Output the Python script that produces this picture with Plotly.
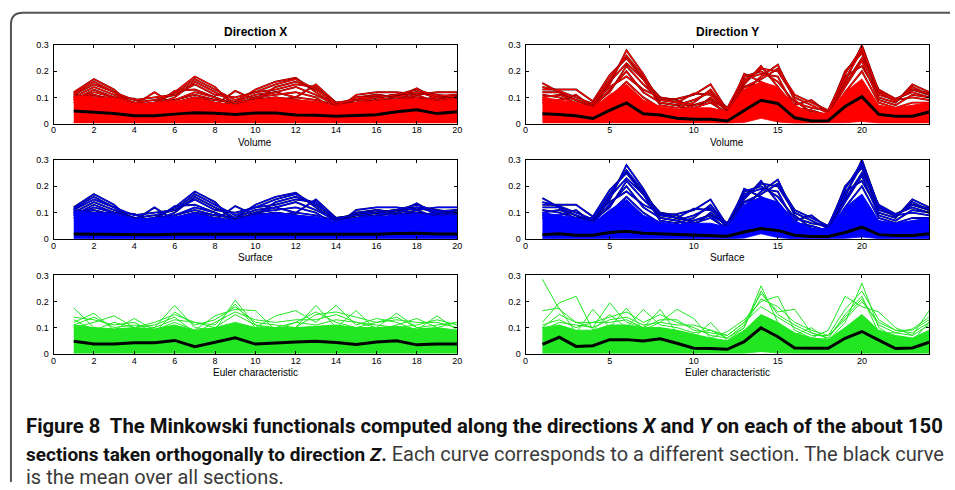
import plotly.graph_objects as go

W, H = 955, 490

# ---------------------------------------------------------------- data
x_dir_x = [1, 2, 3, 4, 5, 6, 7, 8, 9, 10, 11, 12, 13, 14, 15, 16, 17, 18, 19, 20]
x_dir_y = [1, 2, 3, 4, 5, 6, 7, 8, 9, 10, 11, 12, 13, 14, 15, 16, 17, 18, 19, 20, 21, 22, 23, 24]

# Direction X, volume / surface: outlying section curves
dirx_sections = [
    [0.120, 0.170, 0.130, 0.060, 0.070, 0.080, 0.100, 0.080, 0.070, 0.090, 0.100, 0.090, 0.080, 0.060, 0.070, 0.080, 0.090, 0.100, 0.080, 0.090],
    [0.100, 0.110, 0.090, 0.070, 0.080, 0.120, 0.180, 0.140, 0.060, 0.100, 0.090, 0.100, 0.090, 0.070, 0.080, 0.090, 0.080, 0.090, 0.090, 0.100],
    [0.110, 0.100, 0.100, 0.080, 0.070, 0.090, 0.110, 0.090, 0.080, 0.130, 0.160, 0.175, 0.120, 0.070, 0.090, 0.100, 0.110, 0.100, 0.090, 0.110],
    [0.090, 0.120, 0.100, 0.095, 0.060, 0.080, 0.100, 0.090, 0.080, 0.110, 0.120, 0.100, 0.150, 0.080, 0.070, 0.090, 0.100, 0.090, 0.100, 0.090],
    [0.100, 0.090, 0.080, 0.070, 0.120, 0.070, 0.090, 0.070, 0.125, 0.090, 0.100, 0.090, 0.070, 0.060, 0.100, 0.110, 0.100, 0.135, 0.090, 0.100],
    [0.080, 0.100, 0.090, 0.060, 0.070, 0.125, 0.130, 0.100, 0.070, 0.100, 0.110, 0.120, 0.100, 0.050, 0.110, 0.120, 0.120, 0.110, 0.120, 0.120],
    [0.110, 0.150, 0.120, 0.070, 0.080, 0.090, 0.120, 0.100, 0.070, 0.100, 0.120, 0.140, 0.110, 0.070, 0.080, 0.100, 0.090, 0.110, 0.080, 0.100],
    [0.100, 0.140, 0.110, 0.080, 0.070, 0.100, 0.160, 0.120, 0.080, 0.090, 0.140, 0.160, 0.130, 0.080, 0.090, 0.110, 0.100, 0.120, 0.100, 0.110],
    [0.090, 0.130, 0.100, 0.080, 0.090, 0.110, 0.150, 0.110, 0.100, 0.120, 0.130, 0.150, 0.140, 0.070, 0.100, 0.100, 0.110, 0.120, 0.110, 0.100],
    [0.115, 0.160, 0.120, 0.090, 0.100, 0.110, 0.170, 0.130, 0.090, 0.120, 0.150, 0.170, 0.130, 0.080, 0.090, 0.100, 0.110, 0.130, 0.105, 0.110],
]
dirx_core_low = [0.002, 0.002, 0.002, 0.002, 0.002, 0.002, 0.002, 0.002, 0.002, 0.002, 0.002, 0.002, 0.002, 0.002, 0.002, 0.003, 0.004, 0.004, 0.002, 0.002]
dirx_core_high = [0.105, 0.100, 0.095, 0.075, 0.080, 0.085, 0.095, 0.080, 0.070, 0.090, 0.095, 0.090, 0.085, 0.065, 0.080, 0.085, 0.090, 0.095, 0.085, 0.090]
dirx_volume_mean = [0.048, 0.044, 0.038, 0.030, 0.030, 0.036, 0.041, 0.039, 0.035, 0.040, 0.040, 0.033, 0.032, 0.028, 0.032, 0.034, 0.045, 0.053, 0.038, 0.045]
dirx_surface_mean = [0.019, 0.018, 0.018, 0.017, 0.017, 0.018, 0.018, 0.018, 0.017, 0.018, 0.018, 0.017, 0.017, 0.017, 0.017, 0.018, 0.021, 0.022, 0.019, 0.019]

# Direction Y, volume / surface: outlying section curves
diry_sections = [
    [0.155, 0.120, 0.090, 0.060, 0.150, 0.280, 0.190, 0.080, 0.070, 0.050, 0.100, 0.050, 0.120, 0.180, 0.225, 0.090, 0.040, 0.030, 0.160, 0.300, 0.120, 0.090, 0.100, 0.090],
    [0.130, 0.130, 0.130, 0.085, 0.185, 0.250, 0.170, 0.100, 0.090, 0.060, 0.080, 0.040, 0.190, 0.160, 0.120, 0.070, 0.090, 0.040, 0.200, 0.270, 0.100, 0.080, 0.150, 0.120],
    [0.120, 0.120, 0.070, 0.070, 0.120, 0.220, 0.150, 0.090, 0.095, 0.110, 0.150, 0.050, 0.150, 0.220, 0.140, 0.060, 0.050, 0.030, 0.150, 0.250, 0.130, 0.095, 0.120, 0.100],
    [0.110, 0.100, 0.080, 0.080, 0.140, 0.180, 0.130, 0.100, 0.080, 0.115, 0.110, 0.060, 0.180, 0.200, 0.160, 0.080, 0.060, 0.050, 0.180, 0.220, 0.110, 0.090, 0.130, 0.110],
    [0.100, 0.110, 0.090, 0.070, 0.160, 0.230, 0.170, 0.070, 0.060, 0.080, 0.130, 0.050, 0.160, 0.210, 0.200, 0.100, 0.070, 0.040, 0.170, 0.280, 0.120, 0.085, 0.140, 0.110],
    [0.090, 0.090, 0.110, 0.060, 0.130, 0.200, 0.120, 0.080, 0.070, 0.090, 0.120, 0.040, 0.170, 0.190, 0.180, 0.060, 0.050, 0.030, 0.140, 0.240, 0.090, 0.070, 0.110, 0.100],
    [0.140, 0.125, 0.100, 0.075, 0.170, 0.260, 0.180, 0.090, 0.080, 0.070, 0.090, 0.055, 0.140, 0.170, 0.210, 0.110, 0.080, 0.050, 0.190, 0.290, 0.125, 0.090, 0.130, 0.115],
    [0.080, 0.080, 0.060, 0.050, 0.100, 0.160, 0.100, 0.060, 0.050, 0.070, 0.090, 0.030, 0.140, 0.150, 0.130, 0.050, 0.030, 0.020, 0.120, 0.200, 0.080, 0.060, 0.080, 0.080],
]
diry_core_low = [0.002, 0.002, 0.002, 0.002, 0.002, 0.004, 0.002, 0.002, 0.002, 0.002, 0.002, 0.001, 0.004, 0.020, 0.006, 0.001, 0.001, 0.001, 0.003, 0.008, 0.002, 0.002, 0.002, 0.002]
diry_core_high = [0.100, 0.090, 0.080, 0.060, 0.110, 0.150, 0.090, 0.065, 0.055, 0.060, 0.060, 0.045, 0.130, 0.160, 0.140, 0.070, 0.040, 0.040, 0.120, 0.170, 0.070, 0.060, 0.070, 0.080]
diry_volume_mean = [0.037, 0.035, 0.030, 0.019, 0.050, 0.079, 0.037, 0.033, 0.020, 0.016, 0.016, 0.010, 0.050, 0.089, 0.077, 0.022, 0.010, 0.011, 0.065, 0.103, 0.035, 0.028, 0.028, 0.044]
diry_surface_mean = [0.017, 0.020, 0.015, 0.015, 0.025, 0.030, 0.022, 0.020, 0.017, 0.015, 0.013, 0.011, 0.027, 0.040, 0.033, 0.015, 0.010, 0.010, 0.025, 0.045, 0.017, 0.014, 0.014, 0.020]

# Euler characteristic, direction X
eulx_sections = [
    [0.175, 0.100, 0.080, 0.090, 0.100, 0.185, 0.100, 0.090, 0.205, 0.110, 0.100, 0.120, 0.110, 0.130, 0.120, 0.100, 0.155, 0.100, 0.090, 0.080],
    [0.120, 0.155, 0.090, 0.135, 0.090, 0.120, 0.090, 0.145, 0.170, 0.165, 0.090, 0.100, 0.185, 0.100, 0.165, 0.090, 0.110, 0.135, 0.100, 0.120],
    [0.100, 0.120, 0.145, 0.100, 0.120, 0.150, 0.120, 0.110, 0.190, 0.100, 0.145, 0.165, 0.120, 0.185, 0.110, 0.135, 0.120, 0.090, 0.145, 0.090],
    [0.140, 0.130, 0.110, 0.120, 0.080, 0.160, 0.110, 0.130, 0.180, 0.120, 0.110, 0.100, 0.150, 0.160, 0.140, 0.120, 0.130, 0.120, 0.120, 0.100],
    [0.130, 0.090, 0.120, 0.100, 0.110, 0.140, 0.080, 0.120, 0.160, 0.130, 0.120, 0.130, 0.130, 0.150, 0.120, 0.110, 0.100, 0.110, 0.130, 0.110],
    [0.110, 0.140, 0.100, 0.110, 0.100, 0.130, 0.120, 0.100, 0.150, 0.110, 0.090, 0.120, 0.160, 0.120, 0.100, 0.120, 0.140, 0.100, 0.110, 0.120],
]
eulx_core_low = [0.002, 0.002, 0.002, 0.002, 0.002, 0.002, 0.002, 0.002, 0.002, 0.002, 0.002, 0.002, 0.002, 0.002, 0.002, 0.002, 0.002, 0.002, 0.002, 0.002]
eulx_core_high = [0.110, 0.100, 0.095, 0.100, 0.095, 0.110, 0.090, 0.100, 0.120, 0.100, 0.100, 0.100, 0.105, 0.110, 0.100, 0.100, 0.105, 0.095, 0.100, 0.090]
eulx_mean = [0.048, 0.037, 0.037, 0.042, 0.042, 0.051, 0.027, 0.045, 0.061, 0.037, 0.042, 0.045, 0.048, 0.043, 0.035, 0.045, 0.050, 0.034, 0.037, 0.037]

# Euler characteristic, direction Y
euly_sections = [
    [0.285, 0.170, 0.120, 0.100, 0.195, 0.120, 0.100, 0.170, 0.080, 0.060, 0.120, 0.050, 0.100, 0.260, 0.120, 0.070, 0.100, 0.050, 0.120, 0.270, 0.100, 0.060, 0.050, 0.120],
    [0.165, 0.175, 0.080, 0.170, 0.100, 0.175, 0.090, 0.120, 0.170, 0.135, 0.060, 0.085, 0.130, 0.200, 0.220, 0.090, 0.060, 0.090, 0.220, 0.180, 0.160, 0.100, 0.070, 0.165],
    [0.120, 0.195, 0.220, 0.090, 0.150, 0.100, 0.170, 0.110, 0.100, 0.080, 0.090, 0.070, 0.120, 0.230, 0.160, 0.170, 0.080, 0.060, 0.150, 0.220, 0.080, 0.080, 0.095, 0.140],
    [0.100, 0.150, 0.120, 0.120, 0.140, 0.160, 0.120, 0.150, 0.120, 0.100, 0.070, 0.060, 0.110, 0.210, 0.180, 0.120, 0.090, 0.070, 0.170, 0.240, 0.130, 0.090, 0.080, 0.120],
    [0.110, 0.130, 0.100, 0.120, 0.120, 0.130, 0.100, 0.130, 0.130, 0.090, 0.080, 0.070, 0.120, 0.180, 0.140, 0.100, 0.070, 0.070, 0.130, 0.200, 0.120, 0.090, 0.090, 0.130],
    [0.090, 0.120, 0.110, 0.100, 0.130, 0.140, 0.110, 0.120, 0.110, 0.110, 0.090, 0.060, 0.100, 0.240, 0.150, 0.110, 0.080, 0.060, 0.140, 0.210, 0.110, 0.080, 0.070, 0.110],
]
euly_core_low = [0.002, 0.002, 0.002, 0.002, 0.002, 0.002, 0.002, 0.002, 0.002, 0.002, 0.002, 0.002, 0.002, 0.008, 0.003, 0.002, 0.002, 0.002, 0.002, 0.004, 0.002, 0.002, 0.002, 0.002]
euly_core_high = [0.100, 0.110, 0.090, 0.090, 0.110, 0.110, 0.100, 0.100, 0.090, 0.075, 0.060, 0.050, 0.090, 0.150, 0.120, 0.080, 0.060, 0.055, 0.100, 0.150, 0.090, 0.070, 0.060, 0.090]
euly_mean = [0.036, 0.063, 0.028, 0.031, 0.054, 0.054, 0.049, 0.057, 0.040, 0.021, 0.020, 0.017, 0.046, 0.099, 0.065, 0.022, 0.021, 0.021, 0.059, 0.085, 0.052, 0.020, 0.022, 0.044]

y_ticks = [0, 0.1, 0.2, 0.3]
y_tick_text = ["0", "0.1", "0.2", "0.3"]
x_ticks_left = [0, 2, 4, 6, 8, 10, 12, 14, 16, 18, 20]
x_ticks_right = [0, 5, 10, 15, 20]

column_titles = ["Direction X", "Direction Y"]
row_labels = ["Volume", "Surface", "Euler characteristic"]

GREY = "#3a3a3a"
caption_lines = [
    "<b>Figure 8&nbsp; The Minkowski functionals computed along the directions <i>X</i> and <i>Y</i> on each of the about 150</b>",
    "<b><span style='font-size:19px'>sections taken orthogonally to direction <i>Z</i>.</span></b>"
    f" <span style='color:{GREY}'>Each curve corresponds to a different section. The black curve</span>",
    f"<span style='color:{GREY}'>is the mean over all sections.</span>",
]

RED, BLUE, GREEN = "#ff0000", "#0000ff", "#22e622"

# ---------------------------------------------------------------- layout helpers
def px(x):
    return x / W


def py(y):
    return 1 - y / H


col_px = [(51, 458), (527, 934)]
row_px = [(41, 121), (158, 239), (276, 356)]

panels = [
    # row, col, x, sections, low, high, mean, colour, edge colour
    (0, 0, x_dir_x, dirx_sections, dirx_core_low, dirx_core_high, dirx_volume_mean, RED, "#6a0000"),
    (0, 1, x_dir_y, diry_sections, diry_core_low, diry_core_high, diry_volume_mean, RED, "#6a0000"),
    (1, 0, x_dir_x, dirx_sections, dirx_core_low, dirx_core_high, dirx_surface_mean, BLUE, "#00005a"),
    (1, 1, x_dir_y, diry_sections, diry_core_low, diry_core_high, diry_surface_mean, BLUE, "#00005a"),
    (2, 0, x_dir_x, eulx_sections, eulx_core_low, eulx_core_high, eulx_mean, GREEN, None),
    (2, 1, x_dir_y, euly_sections, euly_core_low, euly_core_high, euly_mean, GREEN, None),
]

fig = go.Figure()
layout = dict(
    width=W, height=H,
    margin=dict(l=0, r=0, t=0, b=0),
    paper_bgcolor="white", plot_bgcolor="white",
    showlegend=False,
    font=dict(family="Liberation Sans, Arial, sans-serif", color="black"),
)
annotations = []

for i, (r, c, xs, sections, low, high, mean, colour, edge) in enumerate(panels):
    n = i + 1
    xa = "x" if n == 1 else f"x{n}"
    ya = "y" if n == 1 else f"y{n}"

    # individual section curves
    for sec in sections:
        if edge is not None:
            fig.add_trace(go.Scatter(x=xs, y=sec, mode="lines", xaxis=xa, yaxis=ya,
                                     line=dict(color=edge, width=1.9), hoverinfo="skip"))
        fig.add_trace(go.Scatter(x=xs, y=sec, mode="lines", xaxis=xa, yaxis=ya,
                                 line=dict(color=colour, width=1.1 if edge else 1.0), hoverinfo="skip"))
    # dense core of the bundle
    fig.add_trace(go.Scatter(x=xs, y=low, mode="lines", xaxis=xa, yaxis=ya,
                             line=dict(color=colour, width=0.8), hoverinfo="skip"))
    fig.add_trace(go.Scatter(x=xs, y=high, mode="lines", xaxis=xa, yaxis=ya, fill="tonexty",
                             fillcolor=colour, line=dict(color=colour, width=1.0), hoverinfo="skip"))
    # mean over all sections
    fig.add_trace(go.Scatter(x=xs, y=mean, mode="lines", xaxis=xa, yaxis=ya,
                             line=dict(color="black", width=3.0), hoverinfo="skip"))

    x0, x1 = col_px[c]
    y0, y1 = row_px[r]
    xmax = 20 if c == 0 else 24
    ax_common = dict(showline=True, linecolor="black", linewidth=1, mirror="ticks",
                     ticks="inside", ticklen=3, tickcolor="black", tickwidth=1,
                     showgrid=False, zeroline=False,
                     tickfont=dict(size=9, family="Liberation Sans, Arial, sans-serif"))
    layout["xaxis" if n == 1 else f"xaxis{n}"] = dict(
        ax_common, domain=[px(x0), px(x1)], range=[0, xmax], anchor=ya,
        tickmode="array", tickvals=x_ticks_left if c == 0 else x_ticks_right, ticklabelstandoff=-2)
    layout["yaxis" if n == 1 else f"yaxis{n}"] = dict(
        ax_common, domain=[py(y1), py(y0)], range=[0, 0.3], anchor=xa,
        tickmode="array", tickvals=y_ticks, ticktext=y_tick_text, ticklabelstandoff=2)

    annotations.append(dict(text=row_labels[r], xref="paper", yref="paper",
                            x=px((x0 + x1) / 2), y=py(y1 + 19), xanchor="center", yanchor="middle",
                            showarrow=False, font=dict(size=10, color="black")))
    if r == 0:
        annotations.append(dict(text=f"<b>{column_titles[c]}</b>", xref="paper", yref="paper",
                                x=px((x0 + x1) / 2), y=py(28), xanchor="center", yanchor="middle",
                                showarrow=False, font=dict(size=12, color="black")))

caption_y = [430, 458, 482]
caption_size = [20.3, 20.0, 20.0]
for line, yy, fs in zip(caption_lines, caption_y, caption_size):
    annotations.append(dict(text=line, xref="paper", yref="paper", x=px(21), y=py(yy),
                            xanchor="left", yanchor="middle", showarrow=False, align="left",
                            font=dict(size=fs, color="#111111", family="Roboto, sans-serif")))

layout["annotations"] = annotations

# rounded frame around figure and caption
frame = (f"M {px(8)},{py(487)} L {px(8)},{py(20)} "
         f"Q {px(8)},{py(8)} {px(20)},{py(8)} L {px(955)},{py(8)}")
layout["shapes"] = [dict(type="path", path=frame, xref="paper", yref="paper",
                         line=dict(color="#555555", width=2))]

fig.update_layout(**layout)
fig.write_html("out.html")
